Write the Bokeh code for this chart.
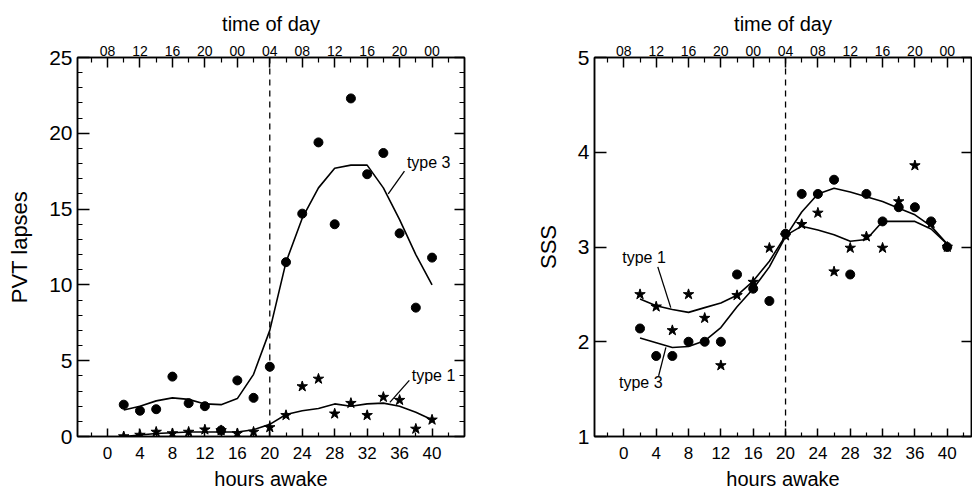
from bokeh.plotting import figure
from bokeh.models import LinearAxis, FixedTicker, Span, Range1d, Label, CustomLabelingPolicy
from bokeh.layouts import row
from bokeh.embed import file_html
from bokeh.resources import INLINE

FONT = "Liberation Sans"

# ---------------- data ----------------
hours = [2, 4, 6, 8, 10, 12, 14, 16, 18, 20, 22, 24, 26, 28, 30, 32, 34, 36, 38, 40]

# PVT lapses (left panel)
pvt_type3 = [2.1, 1.7, 1.8, 3.95, 2.2, 2.0, 0.4, 3.7, 2.55, 4.6,
             11.5, 14.7, 19.4, 14.0, 22.3, 17.3, 18.7, 13.4, 8.5, 11.8]
pvt_type1 = [0.0, 0.1, 0.3, 0.2, 0.3, 0.45, 0.4, 0.2, 0.3, 0.6,
             1.4, 3.3, 3.8, 1.5, 2.2, 1.4, 2.6, 2.4, 0.5, 1.1]
pvt_fit3 = [1.75, 2.0, 2.35, 2.55, 2.45, 2.15, 2.1, 2.5, 4.1, 7.0,
            11.5, 14.4, 16.4, 17.7, 17.9, 17.9, 16.4, 14.3, 12.0, 10.0]
pvt_fit1 = [0.0, 0.1, 0.2, 0.25, 0.3, 0.3, 0.3, 0.3, 0.45, 0.8,
            1.45, 1.7, 1.85, 2.15, 2.0, 2.15, 2.2, 2.0, 1.6, 1.1]

# SSS (right panel)
sss_type3 = [2.14, 1.85, 1.85, 2.0, 2.0, 2.0, 2.71, 2.56, 2.43, 3.14,
             3.56, 3.56, 3.71, 2.71, 3.56, 3.27, 3.42, 3.42, 3.27, 3.0]
sss_type1 = [2.50, 2.37, 2.12, 2.50, 2.25, 1.75, 2.49, 2.63, 2.99, 3.12,
             3.24, 3.36, 2.74, 2.99, 3.11, 2.99, 3.48, 3.86, 3.25, 3.0]
sss_fit3 = [2.04, 1.99, 1.94, 1.95, 2.01, 2.15, 2.37, 2.56, 2.79, 3.11,
            3.37, 3.56, 3.62, 3.58, 3.53, 3.48, 3.41, 3.34, 3.22, 3.03]
sss_fit1 = [2.45, 2.38, 2.34, 2.31, 2.36, 2.41, 2.49, 2.64, 2.85, 3.12,
            3.22, 3.18, 3.13, 3.06, 3.08, 3.27, 3.27, 3.27, 3.19, 3.03]

hour_ticks = [0, 4, 8, 12, 16, 20, 24, 28, 32, 36, 40]
hour_minor = [-2, 2, 6, 10, 14, 18, 22, 26, 30, 34, 38, 42]
time_labels = ["08", "12", "16", "20", "00", "04", "08", "12", "16", "20", "00"]
pvt_ticks = [0, 5, 10, 15, 20, 25]
pvt_minor = list(range(0, 26))
sss_ticks = [1, 2, 3, 4, 5]
start_of_night = 20

# annotation placement (label text position and leader line ends)
pvt_lab3 = dict(x=36.9, y=18.1, lx=[36.6, 34.6], ly=[17.5, 16.0])
pvt_lab1 = dict(x=37.5, y=4.0, lx=[37.2, 34.8], ly=[3.7, 2.25])
sss_lab1 = dict(x=-0.2, y=2.89, lx=[4.2, 5.8], ly=[2.79, 2.36])
sss_lab3 = dict(x=-0.6, y=1.57, lx=[4.3, 5.2], ly=[1.64, 1.94])

HIDE_LABELS = ("try { return indices.constructor.all_unset(indices.size) } "
               "catch (e) { return indices }")


def style_axis(ax, label_size, tick_in=10, minor_in=5, axis_label_size="21px"):
    ax.axis_line_color = "black"
    ax.axis_line_width = 1.5
    ax.major_tick_in = tick_in
    ax.major_tick_out = 0
    ax.minor_tick_in = minor_in
    ax.minor_tick_out = 0
    ax.major_tick_line_color = "black"
    ax.major_tick_line_width = 1.5
    ax.minor_tick_line_color = "black"
    ax.minor_tick_line_width = 1.2
    ax.major_label_text_font = FONT
    ax.major_label_text_font_size = label_size
    ax.major_label_text_color = "black"
    ax.axis_label_text_font = FONT
    ax.axis_label_text_font_style = "normal"
    ax.axis_label_text_font_size = axis_label_size
    ax.axis_label_text_color = "black"


def make_panel(width, mbl, mbr, mbt, mbb, xr, yr, yticks, yminor, ylabel,
               y_tick_size, y_minor_in):
    p = figure(width=width, height=498, x_range=Range1d(*xr), y_range=Range1d(*yr),
               output_backend="svg", toolbar_location=None,
               min_border_left=mbl, min_border_right=mbr,
               min_border_top=mbt, min_border_bottom=mbb,
               background_fill_color="white", border_fill_color="white")
    p.grid.visible = False
    p.outline_line_color = "black"
    p.outline_line_width = 1.5

    xa = p.xaxis[0]
    xa.ticker = FixedTicker(ticks=hour_ticks, minor_ticks=hour_minor)
    xa.axis_label = "hours awake"
    style_axis(xa, "17px", tick_in=8, minor_in=4, axis_label_size="20px")
    xa.major_label_standoff = 10
    xa.axis_label_standoff = 6

    ya = p.yaxis[0]
    ya.ticker = FixedTicker(ticks=yticks, minor_ticks=yminor)
    ya.axis_label = ylabel
    style_axis(ya, y_tick_size, tick_in=12, minor_in=y_minor_in, axis_label_size="22px")
    ya.major_label_standoff = 5
    ya.axis_label_standoff = 14

    top = LinearAxis(ticker=FixedTicker(ticks=hour_ticks, minor_ticks=hour_minor),
                     major_label_overrides={t: s for t, s in zip(hour_ticks, time_labels)},
                     axis_label="time of day")
    style_axis(top, "14px", tick_in=10, minor_in=5, axis_label_size="20px")
    top.major_label_standoff = 2
    top.axis_label_standoff = 8
    p.add_layout(top, "above")

    right = LinearAxis(ticker=FixedTicker(ticks=yticks, minor_ticks=yminor),
                       major_label_policy=CustomLabelingPolicy(code=HIDE_LABELS))
    style_axis(right, "0px", tick_in=10, minor_in=y_minor_in)
    right.major_label_standoff = 0
    p.add_layout(right, "right")

    p.add_layout(Span(location=start_of_night, dimension="height", line_color="black",
                      line_width=1.3, line_dash="6 5"))
    return p


def add_label(p, lab, text):
    p.add_layout(Label(x=lab["x"], y=lab["y"], text=text, text_font=FONT,
                       text_font_size="16px", text_color="black", text_baseline="middle"))
    p.line(lab["lx"], lab["ly"], line_color="black", line_width=1.3)


# ---------------- left panel ----------------
p1 = make_panel(494, 77, 30, 57, 62, (-3.7, 44.0), (0, 25), pvt_ticks, pvt_minor,
                "PVT lapses", "21px", 5)
p1.line(hours, pvt_fit3, line_color="black", line_width=1.6)
p1.line(hours, pvt_fit1, line_color="black", line_width=1.6)
p1.scatter(hours, pvt_type3, marker="circle", size=9, color="black")
p1.scatter(hours, pvt_type1, marker="star", size=11, color="black")
add_label(p1, pvt_lab3, "type 3")
add_label(p1, pvt_lab1, "type 1")

# ---------------- right panel ----------------
p2 = make_panel(478, 100, 1, 53, 58, (-3.63, 43.0), (1, 5), sss_ticks, [],
                "SSS", "21px", 0)
p2.line(hours, sss_fit3, line_color="black", line_width=1.6)
p2.line(hours, sss_fit1, line_color="black", line_width=1.6)
p2.scatter(hours, sss_type3, marker="circle", size=9, color="black")
p2.scatter(hours, sss_type1, marker="star", size=11, color="black")
add_label(p2, sss_lab1, "type 1")
add_label(p2, sss_lab3, "type 3")

layout = row(p1, p2)
open("out.html", "w").write(file_html(layout, INLINE))
